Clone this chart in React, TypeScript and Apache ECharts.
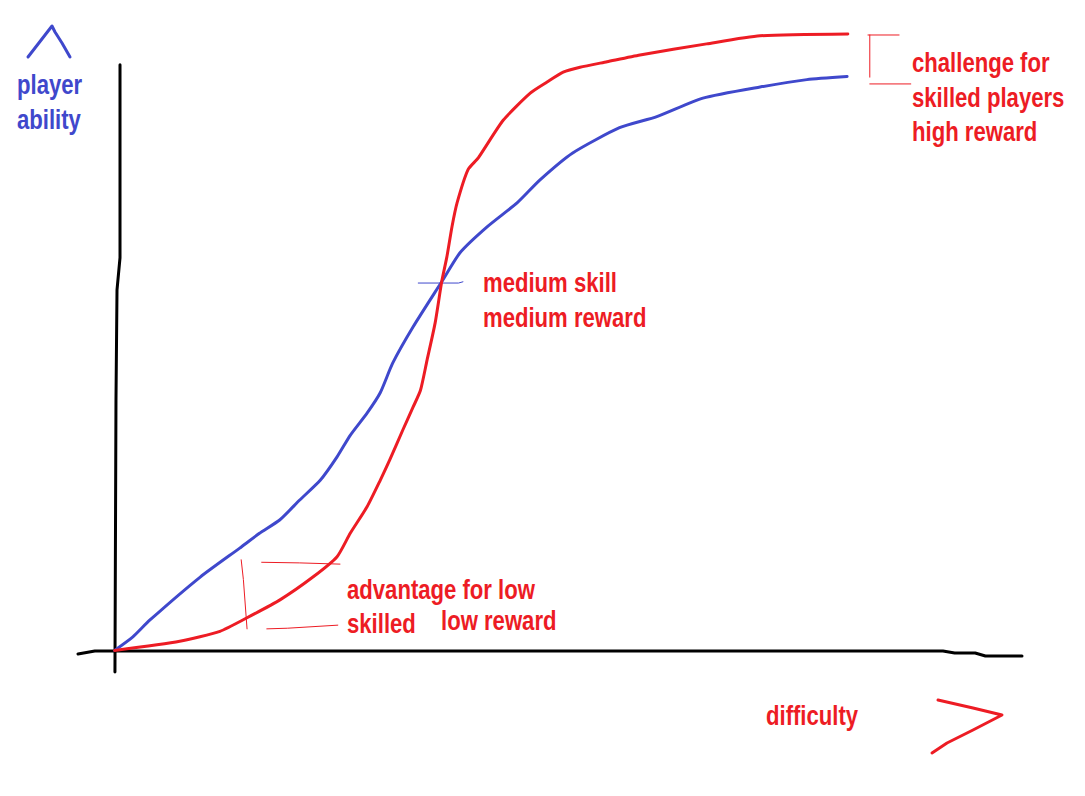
import React, { useEffect, useRef } from "react";
import * as echarts from "echarts";

// Hand-drawn curves: [difficulty, ability]
const playerAbility: [number, number][] = [
  [0, 0], [2.5, 2.2], [4.8, 4.9], [11.7, 11.9], [17.1, 16.6], [19.8, 19.0], [22.6, 21.2],
  [25.3, 24.4], [28.1, 27.6], [30.4, 31.4], [32.2, 34.9], [34.5, 38.5], [36.3, 41.8],
  [38.0, 46.6], [40.8, 52.5], [44.7, 59.8], [47.2, 64.5], [50.9, 68.7], [55.0, 72.6],
  [58.1, 76.3], [62.6, 80.7], [69.0, 84.8], [74.1, 86.6], [80.4, 89.6], [88.2, 91.4],
  [94.6, 92.6], [100.1, 93.1],
];
const difficultyCurve: [number, number][] = [
  [0, 0], [8.9, 1.5], [14.4, 3.1], [18.1, 5.3], [22.6, 8.2], [27.1, 11.9], [30.4, 15.2],
  [32.2, 19.0], [34.5, 23.3], [36.3, 27.6], [37.6, 30.9], [39.4, 35.8], [40.8, 39.5],
  [41.8, 42.2], [42.7, 47.1], [43.8, 53.1], [44.7, 59.8], [45.4, 63.8], [46.1, 68.7],
  [46.8, 72.6], [48.3, 78.0], [49.7, 79.9], [53.1, 86.0], [56.8, 90.4], [59.1, 92.2],
  [61.3, 93.8], [63.6, 94.6], [67.3, 95.5], [71.8, 96.6], [80.9, 98.4], [88.2, 99.7],
  [100.2, 100.0],
];
// Hand-drawn axes
const axisY: [number, number][] = [[0.74, 95.0], [0.74, 63.7], [0.33, 58.5], [0.19, 40.6], [0.05, -3.5]];
const axisX: [number, number][] = [
  [-5.0, -0.58], [-2.7, -0.1], [113.2, -0.1], [114.8, -0.42], [117.6, -0.42], [119.0, -0.9], [124.0, -0.9],
];
// Annotation strokes
const gapTopA: [number, number][] = [[102.95, 99.84], [107.2, 99.84]];
const gapTopB: [number, number][] = [[103.2, 99.84], [103.2, 93.0]];
const gapTopC: [number, number][] = [[103.2, 91.9], [108.8, 91.9]];
const crossMid: [number, number][] = [[41.5, 59.6], [47.0, 59.6], [47.6, 59.8]];
const gapLowA: [number, number][] = [[17.3, 14.7], [17.6, 11.5], [18.1, 3.5]];
const gapLowB: [number, number][] = [[20.1, 14.3], [25.3, 14.2], [30.8, 14.0]];
const gapLowC: [number, number][] = [[20.8, 3.5], [23.6, 3.6], [30.5, 4.1]];

const labels = {
  yTitle: ["player", "ability"],
  xTitle: "difficulty",
  top: ["challenge for", "skilled players", "high reward"],
  mid: ["medium skill", "medium reward"],
  low: ["advantage for low", "skilled"],
  lowReward: "low reward",
};

const BLUE = "#3f48cc";
const RED = "#ed1c24";
const FONT = 'bold 28px "Liberation Sans", Arial, sans-serif';

function txt(text: string, x: number, y: number, fill: string) {
  return {
    type: "text",
    x,
    y: y - 1.5,
    scaleX: 0.79,
    style: { text, font: FONT, fill, verticalAlign: "middle", align: "left" },
  };
}

function stroke(name: string, data: [number, number][], color: string, width: number, smooth = 0) {
  return {
    name,
    type: "line",
    data,
    showSymbol: false,
    symbol: "none",
    clip: false,
    silent: true,
    smooth,
    lineStyle: { color, width, cap: "round", join: "round" },
    z: width > 2 ? 3 : 2,
  };
}

export default function App() {
  const ref = useRef<HTMLDivElement>(null);
  useEffect(() => {
    if (!ref.current) return;
    const chart = echarts.init(ref.current, undefined, { renderer: "svg" });
    chart.setOption({
      animation: false,
      backgroundColor: "#ffffff",
      grid: { left: 78, right: 63, top: 34, bottom: 124 },
      xAxis: {
        type: "value", min: -5, max: 124, show: false,
        splitLine: { show: false },
      },
      yAxis: {
        type: "value", min: -3.5, max: 100, show: false,
        splitLine: { show: false },
      },
      series: [
        stroke("axisY", axisY, "#000000", 3),
        stroke("axisX", axisX, "#000000", 3),
        stroke("player ability", playerAbility, BLUE, 3, 0.2),
        stroke("difficulty", difficultyCurve, RED, 3, 0.2),
        stroke("gapTopA", gapTopA, RED, 1),
        stroke("gapTopB", gapTopB, RED, 1),
        stroke("gapTopC", gapTopC, RED, 1),
        stroke("crossMid", crossMid, BLUE, 1),
        stroke("gapLowA", gapLowA, RED, 1),
        stroke("gapLowB", gapLowB, RED, 1),
        stroke("gapLowC", gapLowC, RED, 1),
      ],
      graphic: [
        {
          type: "polyline",
          shape: { points: [[28, 57], [52, 26], [55, 32], [62, 43], [70, 57]] },
          style: { stroke: BLUE, lineWidth: 3, fill: null, lineCap: "round", lineJoin: "round" },
        },
        {
          type: "polyline",
          shape: { points: [[938, 700], [973, 708], [1002, 715], [973, 730], [947, 743], [932, 753]] },
          style: { stroke: RED, lineWidth: 3, fill: null, lineCap: "round", lineJoin: "round" },
        },
        txt(labels.yTitle[0], 17, 86, BLUE),
        txt(labels.yTitle[1], 17, 121, BLUE),
        txt(labels.top[0], 912, 64, RED),
        txt(labels.top[1], 912, 99, RED),
        txt(labels.top[2], 912, 133, RED),
        txt(labels.mid[0], 483, 284, RED),
        txt(labels.mid[1], 483, 319, RED),
        txt(labels.low[0], 347, 591, RED),
        txt(labels.low[1], 347, 625, RED),
        txt(labels.lowReward, 441, 622, RED),
        txt(labels.xTitle, 766, 717, RED),
      ],
    });
    return () => chart.dispose();
  }, []);
  return (
    <div
      ref={ref}
      style={{ position: "fixed", left: 0, top: 0, width: 1085, height: 796, background: "#fff" }}
    />
  );
}
